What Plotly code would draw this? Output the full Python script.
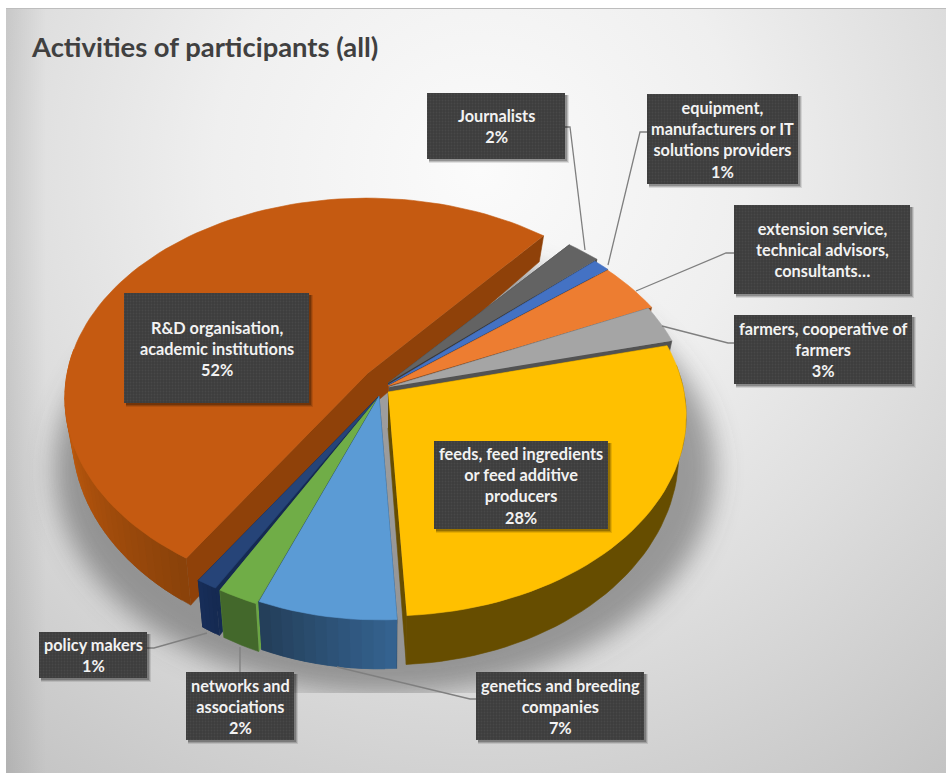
import base64
import math
import plotly.graph_objects as go

# Slices, clockwise from the first slice angle
categories = ["Journalists", "equipment, manufacturers or IT solutions providers",
              "extension service, technical advisors, consultants…",
              "farmers, cooperative of farmers",
              "feeds, feed ingredients or feed additive producers",
              "genetics and breeding companies", "networks and associations",
              "policy makers", "R&D organisation, academic institutions"]
values = [2, 1, 4, 3, 28, 7, 2, 1, 52]
label_lines = [["Journalists"],
               ["equipment,", "manufacturers or IT", "solutions providers"],
               ["extension service,", "technical advisors,", "consultants…"],
               ["farmers, cooperative of", "farmers"],
               ["feeds, feed ingredients", "or feed additive", "producers"],
               ["genetics and breeding", "companies"],
               ["networks and", "associations"],
               ["policy makers"],
               ["R&D organisation,", "academic institutions"]]
show_percent = [True, True, False, True, True, True, True, True, True]

# Colours: top face, then the wall shade at the two ends of the rim
top_colors = ["#636363", "#4472C4", "#ED7D31", "#A5A5A5", "#FFC000",
              "#5B9BD5", "#70AD47", "#264478", "#C55A11"]
rim_colors = [("#3B3B3B", "#3B3B3B"), ("#294574", "#294574"), ("#8E4B1D", "#8E4B1D"),
              ("#525252", "#525252"), ("#664D00", "#664D00"), ("#34628F", "#243F5A"),
              ("#43682B", "#43682B"), ("#152A52", "#172D58"), ("#8A420A", "#D2620F")]
side_colors = ["#3B3B3B", "#294574", "#8E4B1D", "#525252", "#664D00",
               "#243F5A", "#6BA544", "#152A52", "#8F4109"]

# Per-slice pie placement: exploded centre and horizontal radius
centres = [(388, 383), (388, 385), (388, 386), (389, 387), (388, 392),
           (379, 396), (378, 398), (379, 396), (367, 374)]
x_radius = [308, 305, 305, 300, 296, 285, 290, 300, 300]
Y_RADIUS = 197
PERSPECTIVE = 0.12
FIRST_ANGLE = 50
DRAW_ORDER = [8, 0, 1, 2, 3, 4, 7, 6, 5]

# Label boxes (left, top, right, bottom) and their leader lines
boxes = [(427, 93, 565, 159), (647, 94, 798, 184), (734, 205, 910, 294),
         (734, 315, 912, 384), (434, 441, 608, 529), (476, 672, 644, 740),
         (186, 672, 294, 740), (39, 632, 147, 678), (124, 293, 309, 403)]
leaders = [[(565, 127), (570, 127), (585, 250)],
           [(647, 132), (640, 132), (608, 265)],
           [(734, 253), (726, 253), (636, 291)],
           [(734, 343), (728, 343), (662, 326)],
           None,
           [(476, 699), (470, 699), (337, 667)],
           [(240, 672), (240, 647)],
           [(147, 648), (154, 648), (207, 633)],
           None]


def top_point(i, theta, r=1.0):
    s, c = math.sin(math.radians(theta)), math.cos(math.radians(theta))
    w = 1 + PERSPECTIVE * r * s
    cx, cy = centres[i]
    return cx + x_radius[i] * r * c / w, cy - Y_RADIUS * r * s / w


def bottom_point(i, theta, r=1.0):
    x, y = top_point(i, theta, r)
    depth = 36 - 13 * r * math.sin(math.radians(theta))
    cx = centres[i][0]
    return cx + (x - cx) * 0.975, y + depth


def mix(a, b, t):
    pa = [int(a[k:k + 2], 16) for k in (1, 3, 5)]
    pb = [int(b[k:k + 2], 16) for k in (1, 3, 5)]
    return "#%02X%02X%02X" % tuple(round(p + (q - p) * t) for p, q in zip(pa, pb))


def polygon(points, fill):
    return go.Scatter(x=[p[0] for p in points], y=[p[1] for p in points],
                      mode="lines", fill="toself", fillcolor=fill,
                      line=dict(color=fill, width=0.6),
                      hoverinfo="skip", showlegend=False)


# Backdrop: soft radial gradient with the pie's blurred shadow, cut off at its lower edge
backdrop = """<svg xmlns='http://www.w3.org/2000/svg' width='946' height='774'>
<defs>
<radialGradient id='g' gradientUnits='userSpaceOnUse' cx='480' cy='170' r='760'>
<stop offset='0' stop-color='#FBFBFB'/><stop offset='0.35' stop-color='#EFEFEF'/>
<stop offset='0.62' stop-color='#DEDEDE'/><stop offset='1' stop-color='#C4C4C4'/>
</radialGradient>
<linearGradient id='l' x1='0' x2='1' y1='0' y2='0'>
<stop offset='0' stop-color='#000' stop-opacity='0.09'/><stop offset='1' stop-color='#000' stop-opacity='0'/>
</linearGradient>
<filter id='b' x='-20%' y='-20%' width='140%' height='140%'><feGaussianBlur stdDeviation='13'/></filter>
<clipPath id='c'><rect x='0' y='0' width='946' height='693'/></clipPath>
</defs>
<rect width='946' height='774' fill='#FFFFFF'/>
<rect x='6' y='8' width='940' height='765' fill='url(#g)'/>
<rect x='6' y='8' width='40' height='765' fill='url(#l)'/>
<rect x='6' y='8' width='940' height='1' fill='#BDBDBD'/>
<g clip-path='url(#c)'><ellipse cx='385' cy='470' rx='330' ry='224' fill='#5A5A5A' fill-opacity='0.55' filter='url(#b)'/></g>
</svg>"""
backdrop_uri = "data:image/svg+xml;base64," + base64.b64encode(backdrop.encode()).decode()

fig = go.Figure()

# Slice spans in degrees, going clockwise
total = sum(values)
spans = []
angle = FIRST_ANGLE
for v in values:
    spans.append((angle, angle - v / total * 360))
    angle = spans[-1][1]

for i in DRAW_ORDER:
    start, end = spans[i]
    steps = max(4, int((start - end) / 2))
    arc = [start + (end - start) * k / steps for k in range(steps + 1)]
    cx, cy = top_point(i, 0, 0)
    bx, by = bottom_point(i, 0, 0)
    # Radial side walls
    for edge_angle in (start, end):
        fig.add_trace(polygon([(cx, cy), top_point(i, edge_angle), bottom_point(i, edge_angle), (bx, by)],
                              side_colors[i]))
    # Outer rim: flat shades as one piece, graded shades as overlapping strips
    visible = [a for a in arc if math.sin(math.radians(a)) < 0.15]
    if len(visible) >= 2:
        if rim_colors[i][0] == rim_colors[i][1]:
            outline = [top_point(i, a) for a in visible] + [bottom_point(i, a) for a in reversed(visible)]
            fig.add_trace(polygon(outline, rim_colors[i][0]))
        else:
            for k in range(len(visible) - 1):
                strip = visible[k:k + 3]
                shade = mix(rim_colors[i][0], rim_colors[i][1], k / max(1, len(visible) - 2))
                outline = [top_point(i, a) for a in strip] + [bottom_point(i, a) for a in reversed(strip)]
                fig.add_trace(polygon(outline, shade))
    # Top face
    fig.add_trace(polygon([(cx, cy)] + [top_point(i, a) for a in arc], top_colors[i]))

# Leader lines
for path in leaders:
    if path:
        fig.add_trace(go.Scatter(x=[p[0] for p in path], y=[p[1] for p in path], mode="lines",
                                 line=dict(color="#7F7F7F", width=1.3),
                                 hoverinfo="skip", showlegend=False))

# Label boxes with a soft drop shadow and fine dot texture
for (x0, y0, x1, y1) in boxes:
    for grow, alpha in ((4, 0.10), (3, 0.16), (2, 0.22)):
        fig.add_trace(go.Scatter(x=[x0 + 2, x1 + grow, x1 + grow, x0 + 2, x0 + 2],
                                 y=[y0 + 2, y0 + 2, y1 + grow, y1 + grow, y0 + 2],
                                 mode="lines", fill="toself",
                                 fillcolor=f"rgba(0,0,0,{alpha})", line=dict(width=0),
                                 hoverinfo="skip", showlegend=False))
    fig.add_trace(go.Scatter(x=[x0, x1, x1, x0, x0], y=[y0, y0, y1, y1, y0],
                             mode="lines", fill="toself", fillcolor="#3F3F3F",
                             fillpattern=dict(shape=".", size=3, solidity=0.3,
                                              fgcolor="#484848", bgcolor="#3D3D3D", fillmode="replace"),
                             line=dict(width=0), hoverinfo="skip", showlegend=False))

annotations = []
for lines, value, pct, (x0, y0, x1, y1) in zip(label_lines, values, show_percent, boxes):
    text_lines = list(lines) + ([f"{value}%"] if pct else [])
    annotations.append(dict(x=(x0 + x1) / 2, y=(y0 + y1) / 2, xref="x", yref="y",
                            text="<br>".join(text_lines), showarrow=False,
                            align="center", xanchor="center", yanchor="middle",
                            font=dict(family="Lato", size=16.3, color="#F2F2F2", weight="bold")))
annotations.append(dict(x=29, y=46, xref="x", yref="y", text="<b>Activities of participants (all)</b>",
                        showarrow=False, xanchor="left", yanchor="middle",
                        font=dict(family="Lato", size=27.4, color="#404040")))

fig.update_layout(
    width=946, height=774, autosize=False,
    margin=dict(l=0, r=0, t=0, b=0),
    paper_bgcolor="#FFFFFF", plot_bgcolor="rgba(0,0,0,0)",
    xaxis=dict(range=[0, 946], visible=False, fixedrange=True),
    yaxis=dict(range=[774, 0], visible=False, fixedrange=True),
    images=[dict(source=backdrop_uri, xref="x", yref="y", x=0, y=0, sizex=946, sizey=774,
                 xanchor="left", yanchor="top", sizing="stretch", layer="below")],
    annotations=annotations,
)
fig.write_html("out.html", config=dict(displayModeBar=False))
